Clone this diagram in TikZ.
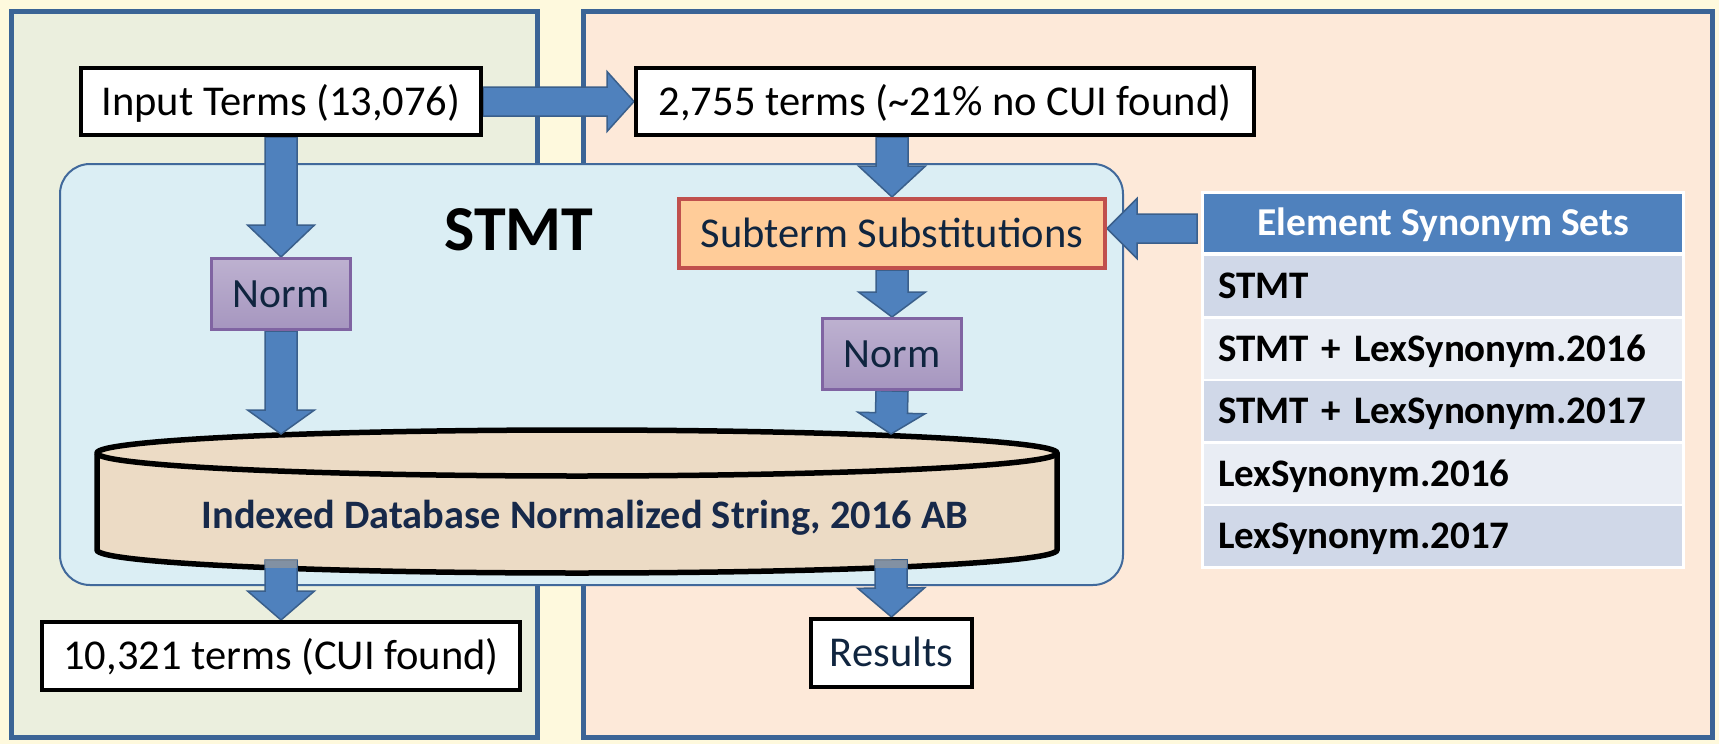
\documentclass[tikz,border=0pt]{standalone}
\usepackage{fontspec}
\setmainfont{Carlito}
\usetikzlibrary{calc}
\pgfdeclarelayer{bg}
\pgfdeclarelayer{arr}
\pgfsetlayers{bg,arr,main}
\definecolor{bgc}{HTML}{FEF9DD}
\definecolor{lpanel}{HTML}{EBEFDE}
\definecolor{rpanel}{HTML}{FDE9D9}
\definecolor{pborder}{HTML}{3B6496}
\definecolor{stmtfill}{HTML}{DBEEF4}
\definecolor{stmtdraw}{HTML}{41699B}
\definecolor{arrfill}{HTML}{4F81BD}
\definecolor{arrdraw}{HTML}{3A5F8B}
\definecolor{subfill}{HTML}{FFCC99}
\definecolor{subdraw}{HTML}{C0504D}
\definecolor{normtop}{HTML}{BDB1D0}
\definecolor{normbot}{HTML}{A696BF}
\definecolor{normdraw}{HTML}{8064A2}
\definecolor{navy}{HTML}{10253F}
\definecolor{dbfill}{HTML}{ECDBC5}
\definecolor{dbtext}{HTML}{17294A}
\definecolor{rowdark}{HTML}{D0D8E8}
\definecolor{rowlight}{HTML}{E9EDF4}
\newcommand\blockarrow[5]{%
  \coordinate (bah) at ($(#2)!#5!(#1)$);
  \draw[blockarr] ($(#1)!#3!90:(#2)$) -- ($(bah)!#3!90:(#2)$) -- ($(bah)!#4!90:(#2)$) -- (#2) -- ($(bah)!#4!-90:(#2)$) -- ($(bah)!#3!-90:(#2)$) -- ($(#1)!#3!-90:(#2)$) -- cycle;
}
\tikzset{
  regfont/.style={font=\fontsize{42.5}{51}\selectfont, text height=27.4pt, text depth=0pt},
  termbox/.style={regfont, draw=black, line width=4pt, fill=white, inner sep=0pt},
  normbox/.style={font=\fontsize{41.6}{50}\selectfont, text height=26.8pt, text depth=0pt, text=navy, draw=normdraw, line width=3pt, top color=normtop, bottom color=normbot, inner sep=0pt, minimum width=139pt, minimum height=71pt},
  subbox/.style={regfont, text=navy, draw=subdraw, line width=4pt, fill=subfill, inner sep=0pt},
  panel/.style={draw=pborder, line width=5pt, inner sep=0pt},
  stmtbox/.style={draw=stmtdraw, line width=2pt, fill=stmtfill, rounded corners=30pt, inner sep=0pt},
  blockarr/.style={fill=arrfill, draw=arrdraw, line width=1.5pt, line join=miter},
  tblhead/.style={fill=arrfill, text=white, font=\bfseries\fontsize{39.5}{47}\selectfont, text height=25.4pt, text depth=0pt, minimum width=478pt, minimum height=58pt, inner sep=0pt},
  tblrow/.style={font=\bfseries\fontsize{39}{47}\selectfont, text height=25.1pt, text depth=0pt, text width=450pt, align=left, inner xsep=14pt, inner ysep=0pt, minimum height=60pt},
}
\begin{document}
\begin{tikzpicture}[x=1pt,y=-1pt]
\useasboundingbox (0,0) rectangle (1719,744);
% panels and STMT container
\begin{pgfonlayer}{bg}
\fill[bgc] (0,0) rectangle (1719,744);
\node[panel, fill=lpanel, minimum width=526pt, minimum height=726pt] (leftp) at (274,374) {};
\node[panel, fill=rpanel, minimum width=1129pt, minimum height=726pt] (rightp) at (1147.5,374) {};
\node[stmtbox, minimum width=1063pt, minimum height=421pt] (stmt) at (591.5,374.5) {};
\end{pgfonlayer}
\node[font=\bfseries\fontsize{64}{76}\selectfont, text height=41pt, text depth=0pt, inner sep=0pt] (stmtlabel) at (519,230) {STMT};
% boxes
\node[termbox, minimum width=400pt, minimum height=67pt] (input) at (281,101.5) {Input Terms (13,076)};
\node[termbox, minimum width=618pt, minimum height=67pt] (t2755) at (945,101.5) {2,755 terms (\textasciitilde21\% no CUI found)};
\node[subbox, minimum width=426pt, minimum height=69pt] (sub) at (892,233.5) {Subterm Substitutions};
\node[normbox] (norm1) at (281,294) {Norm};
\node[normbox] (norm2) at (892,354) {Norm};
\node[termbox, minimum width=478pt, minimum height=68pt] (out1) at (281,656) {10,321 terms (CUI found)};
\node[termbox, text=navy, minimum width=161pt, minimum height=68pt] (res) at (891.5,653) {Results};
% database cylinder
\begin{pgfonlayer}{arr}
\draw[fill=dbfill, line width=5.5pt] (97,453) -- (97,550) arc[start angle=180, end angle=360, x radius=480pt, y radius=23pt] -- (1057,453) arc[start angle=0, end angle=180, x radius=480pt, y radius=23pt] -- cycle;
\draw[line width=5.5pt] (97,453) arc[start angle=180, end angle=360, x radius=480pt, y radius=23pt];
\end{pgfonlayer}
\node[font=\bfseries\fontsize{40.4}{48}\selectfont, text=dbtext, text height=26pt, text depth=0pt, inner sep=0pt] (db) at (585,515) {Indexed Database Normalized String, 2016 AB};
\coordinate (dbin1) at (281,434);
\coordinate (dbin2) at (891,434);
\coordinate (dbout1) at (281,560);
\coordinate (dbout2) at (891,560);
% table
\fill[white] (1201,191) rectangle (1685,569);
\node[tblhead] (th) at (1443,223) {Element Synonym Sets};
\node[tblrow, fill=rowdark] (r1) at (1443,286) {STMT};
\node[tblrow, fill=rowlight] (r2) at (1443,349) {STMT + LexSynonym.2016};
\node[tblrow, fill=rowdark] (r3) at (1443,411) {STMT + LexSynonym.2017};
\node[tblrow, fill=rowlight] (r4) at (1443,473.5) {LexSynonym.2016};
\node[tblrow, fill=rowdark] (r5) at (1443,536) {LexSynonym.2017};
% connectors
\coordinate (s2755) at (t2755.south -| sub.north);
\coordinate (tblout) at (1197,228.5);
\coordinate (subin) at ($(sub.east)+(0,-5)$);
\begin{pgfonlayer}{arr}
\blockarrow{input.east}{t2755.west}{14.5pt}{30pt}{27pt}
\blockarrow{input.south}{norm1.north}{16pt}{33.5pt}{32pt}
\blockarrow{norm1.south}{dbin1}{16pt}{33.5pt}{24pt}
\blockarrow{dbout1}{out1.north}{16pt}{33.5pt}{29pt}
\blockarrow{s2755}{sub.north}{16pt}{33.5pt}{31pt}
\blockarrow{sub.south}{norm2.north}{16pt}{33.5pt}{25pt}
\blockarrow{norm2.south}{dbin2}{16pt}{33.5pt}{21pt}
\blockarrow{dbout2}{res.north}{16pt}{33.5pt}{29pt}
\blockarrow{tblout}{subin}{14.5pt}{30pt}{30pt}
\end{pgfonlayer}
\fill[gray!80, opacity=0.7] ($(dbout1)+(-16,0)$) rectangle ($(dbout1)+(16,8)$);
\fill[gray!80, opacity=0.7] ($(dbout2)+(-16,0)$) rectangle ($(dbout2)+(16,8)$);
\end{tikzpicture}
\end{document}
